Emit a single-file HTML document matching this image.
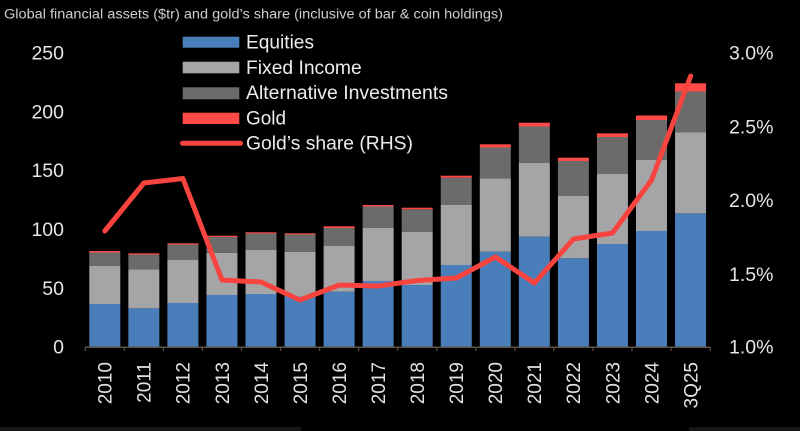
<!DOCTYPE html>
<html>
<head>
<meta charset="utf-8">
<style>
html,body{margin:0;padding:0;background:#000;}
svg{display:block;}
text{font-family:"Liberation Sans",Arial,sans-serif;}
</style>
</head>
<body>
<svg width="800" height="431" viewBox="0 0 800 431" xmlns="http://www.w3.org/2000/svg">
<rect x="0" y="0" width="800" height="431" fill="#000"/>
<!-- faint bottom strips -->
<rect x="0" y="427" width="301" height="4" fill="#161616"/>
<rect x="689" y="427" width="111" height="4" fill="#161616"/>

<!-- title -->
<text x="4" y="18.5" font-size="13.5" fill="#cfcfcf" textLength="499" lengthAdjust="spacingAndGlyphs">Global financial assets ($tr) and gold’s share (inclusive of bar &amp; coin holdings)</text>

<!-- left axis labels -->
<g font-size="19.5" fill="#e6e6e6" text-anchor="end">
<text x="64" y="59.7">250</text>
<text x="64" y="118.5">200</text>
<text x="64" y="177.2">150</text>
<text x="64" y="236">100</text>
<text x="64" y="295">50</text>
<text x="64" y="353.5">0</text>
</g>
<!-- right axis labels -->
<g font-size="19.5" fill="#e6e6e6" text-anchor="start">
<text x="729" y="59.7">3.0%</text>
<text x="729" y="133.5">2.5%</text>
<text x="729" y="207">2.0%</text>
<text x="729" y="281">1.5%</text>
<text x="729" y="353.5">1.0%</text>
</g>

<!-- bars -->
<g id="bars">
<!-- each: blue, light, dark, red -->
<g transform="translate(89.3,0)">
<rect x="0" y="304" width="31" height="43" fill="#4a7eba"/>
<rect x="0" y="266" width="31" height="38" fill="#a5a5a8"/>
<rect x="0" y="252.5" width="31" height="13.5" fill="#6b6b6b"/>
<rect x="0" y="251" width="31" height="1.5" fill="#ff4a47"/>
</g>
<g transform="translate(128.35,0)">
<rect x="0" y="308.3" width="31" height="38.7" fill="#4a7eba"/>
<rect x="0" y="269.3" width="31" height="39" fill="#a5a5a8"/>
<rect x="0" y="254.5" width="31" height="14.8" fill="#6b6b6b"/>
<rect x="0" y="253.3" width="31" height="1.2" fill="#ff4a47"/>
</g>
<g transform="translate(167.4,0)">
<rect x="0" y="303" width="31" height="44" fill="#4a7eba"/>
<rect x="0" y="260" width="31" height="43" fill="#a5a5a8"/>
<rect x="0" y="244.5" width="31" height="15.5" fill="#6b6b6b"/>
<rect x="0" y="243.3" width="31" height="1.2" fill="#ff4a47"/>
</g>
<g transform="translate(206.45,0)">
<rect x="0" y="295" width="31" height="52" fill="#4a7eba"/>
<rect x="0" y="252.7" width="31" height="42.3" fill="#a5a5a8"/>
<rect x="0" y="237" width="31" height="15.7" fill="#6b6b6b"/>
<rect x="0" y="235.7" width="31" height="1.3" fill="#ff4a47"/>
</g>
<g transform="translate(245.5,0)">
<rect x="0" y="294" width="31" height="53" fill="#4a7eba"/>
<rect x="0" y="250" width="31" height="44" fill="#a5a5a8"/>
<rect x="0" y="233.5" width="31" height="16.5" fill="#6b6b6b"/>
<rect x="0" y="232.3" width="31" height="1.2" fill="#ff4a47"/>
</g>
<g transform="translate(284.55,0)">
<rect x="0" y="296.5" width="31" height="50.5" fill="#4a7eba"/>
<rect x="0" y="251.7" width="31" height="44.8" fill="#a5a5a8"/>
<rect x="0" y="234.5" width="31" height="17.2" fill="#6b6b6b"/>
<rect x="0" y="233.3" width="31" height="1.2" fill="#ff4a47"/>
</g>
<g transform="translate(323.6,0)">
<rect x="0" y="291.7" width="31" height="55.3" fill="#4a7eba"/>
<rect x="0" y="246" width="31" height="45.7" fill="#a5a5a8"/>
<rect x="0" y="228" width="31" height="18" fill="#6b6b6b"/>
<rect x="0" y="226.3" width="31" height="1.7" fill="#ff4a47"/>
</g>
<g transform="translate(362.65,0)">
<rect x="0" y="281" width="31" height="66" fill="#4a7eba"/>
<rect x="0" y="227.7" width="31" height="53.3" fill="#a5a5a8"/>
<rect x="0" y="206.5" width="31" height="21.2" fill="#6b6b6b"/>
<rect x="0" y="205" width="31" height="1.5" fill="#ff4a47"/>
</g>
<g transform="translate(401.7,0)">
<rect x="0" y="285" width="31" height="62" fill="#4a7eba"/>
<rect x="0" y="231.7" width="31" height="53.3" fill="#a5a5a8"/>
<rect x="0" y="209.3" width="31" height="22.4" fill="#6b6b6b"/>
<rect x="0" y="207.7" width="31" height="1.6" fill="#ff4a47"/>
</g>
<g transform="translate(440.75,0)">
<rect x="0" y="265" width="31" height="82" fill="#4a7eba"/>
<rect x="0" y="205" width="31" height="60" fill="#a5a5a8"/>
<rect x="0" y="177.7" width="31" height="27.3" fill="#6b6b6b"/>
<rect x="0" y="175.7" width="31" height="2" fill="#ff4a47"/>
</g>
<g transform="translate(479.8,0)">
<rect x="0" y="251.7" width="31" height="95.3" fill="#4a7eba"/>
<rect x="0" y="178.3" width="31" height="73.4" fill="#a5a5a8"/>
<rect x="0" y="147.5" width="31" height="30.8" fill="#6b6b6b"/>
<rect x="0" y="144.3" width="31" height="3.2" fill="#ff4a47"/>
</g>
<g transform="translate(518.85,0)">
<rect x="0" y="236.7" width="31" height="110.3" fill="#4a7eba"/>
<rect x="0" y="163" width="31" height="73.7" fill="#a5a5a8"/>
<rect x="0" y="126.5" width="31" height="36.5" fill="#6b6b6b"/>
<rect x="0" y="122.7" width="31" height="3.8" fill="#ff4a47"/>
</g>
<g transform="translate(557.9,0)">
<rect x="0" y="258.3" width="31" height="88.7" fill="#4a7eba"/>
<rect x="0" y="196" width="31" height="62.3" fill="#a5a5a8"/>
<rect x="0" y="161" width="31" height="35" fill="#6b6b6b"/>
<rect x="0" y="157.7" width="31" height="3.3" fill="#ff4a47"/>
</g>
<g transform="translate(596.95,0)">
<rect x="0" y="244" width="31" height="103" fill="#4a7eba"/>
<rect x="0" y="174" width="31" height="70" fill="#a5a5a8"/>
<rect x="0" y="137" width="31" height="37" fill="#6b6b6b"/>
<rect x="0" y="133.3" width="31" height="3.7" fill="#ff4a47"/>
</g>
<g transform="translate(636,0)">
<rect x="0" y="231" width="31" height="116" fill="#4a7eba"/>
<rect x="0" y="160" width="31" height="71" fill="#a5a5a8"/>
<rect x="0" y="120" width="31" height="40" fill="#6b6b6b"/>
<rect x="0" y="115.5" width="31" height="4.5" fill="#ff4a47"/>
</g>
<g transform="translate(675.05,0)">
<rect x="0" y="213.3" width="31" height="133.7" fill="#4a7eba"/>
<rect x="0" y="132.5" width="31" height="80.8" fill="#a5a5a8"/>
<rect x="0" y="91.5" width="31" height="41" fill="#6b6b6b"/>
<rect x="0" y="83.3" width="31" height="8.2" fill="#ff4a47"/>
</g>
</g>

<!-- x axis -->
<line x1="85" y1="347.3" x2="710" y2="347.3" stroke="#5c5244" stroke-width="1.5"/>
<g stroke="#5c5244" stroke-width="1.2">
<line x1="85.3" y1="347" x2="85.3" y2="351"/>
<line x1="124.35" y1="347" x2="124.35" y2="351"/>
<line x1="163.4" y1="347" x2="163.4" y2="351"/>
<line x1="202.45" y1="347" x2="202.45" y2="351"/>
<line x1="241.5" y1="347" x2="241.5" y2="351"/>
<line x1="280.55" y1="347" x2="280.55" y2="351"/>
<line x1="319.6" y1="347" x2="319.6" y2="351"/>
<line x1="358.65" y1="347" x2="358.65" y2="351"/>
<line x1="397.7" y1="347" x2="397.7" y2="351"/>
<line x1="436.75" y1="347" x2="436.75" y2="351"/>
<line x1="475.8" y1="347" x2="475.8" y2="351"/>
<line x1="514.85" y1="347" x2="514.85" y2="351"/>
<line x1="553.9" y1="347" x2="553.9" y2="351"/>
<line x1="592.95" y1="347" x2="592.95" y2="351"/>
<line x1="632" y1="347" x2="632" y2="351"/>
<line x1="671.05" y1="347" x2="671.05" y2="351"/>
<line x1="710.1" y1="347" x2="710.1" y2="351"/>
</g>

<!-- x labels -->
<g font-size="19" fill="#e2e2e2" text-anchor="end">
<text transform="translate(111.6,362) rotate(-90)">2010</text>
<text transform="translate(150.7,362) rotate(-90)">2011</text>
<text transform="translate(189.7,362) rotate(-90)">2012</text>
<text transform="translate(228.8,362) rotate(-90)">2013</text>
<text transform="translate(267.8,362) rotate(-90)">2014</text>
<text transform="translate(306.9,362) rotate(-90)">2015</text>
<text transform="translate(345.9,362) rotate(-90)">2016</text>
<text transform="translate(385,362) rotate(-90)">2017</text>
<text transform="translate(424,362) rotate(-90)">2018</text>
<text transform="translate(463.1,362) rotate(-90)">2019</text>
<text transform="translate(502.1,362) rotate(-90)">2020</text>
<text transform="translate(541.2,362) rotate(-90)">2021</text>
<text transform="translate(580.2,362) rotate(-90)">2022</text>
<text transform="translate(619.3,362) rotate(-90)">2023</text>
<text transform="translate(658.3,362) rotate(-90)">2024</text>
<text transform="translate(697.4,362) rotate(-90)">3Q25</text>
</g>

<!-- gold share line -->
<polyline fill="none" stroke="#f8443f" stroke-width="5" stroke-linejoin="round" stroke-linecap="round"
points="104.8,231 143.9,183 182.9,178.5 222,280 261,282 300,300 339.2,285 378.2,286 417.3,280.5 456.3,278 495.4,257 534.4,283 573.5,239 612.5,233 651.6,180 690.7,76"/>

<!-- legend -->
<rect x="182.7" y="36.7" width="56.6" height="11" fill="#4a7eba"/>
<rect x="182.7" y="61.7" width="56.6" height="11.6" fill="#a5a5a8"/>
<rect x="182.7" y="87.3" width="56.6" height="12" fill="#6b6b6b"/>
<rect x="182.7" y="112.7" width="56.6" height="11.3" fill="#ff4a47"/>
<line x1="182.5" y1="143.3" x2="240.5" y2="143.3" stroke="#f8443f" stroke-width="5" stroke-linecap="round"/>
<g font-size="19.5" fill="#ececec">
<text x="246" y="48.5" textLength="68" lengthAdjust="spacingAndGlyphs">Equities</text>
<text x="246" y="73.8" textLength="115.7" lengthAdjust="spacingAndGlyphs">Fixed Income</text>
<text x="246" y="99.1" textLength="202" lengthAdjust="spacingAndGlyphs">Alternative Investments</text>
<text x="246" y="124.4" textLength="40" lengthAdjust="spacingAndGlyphs">Gold</text>
<text x="246" y="149.5" textLength="167" lengthAdjust="spacingAndGlyphs">Gold’s share (RHS)</text>
</g>
</svg>
</body>
</html>
